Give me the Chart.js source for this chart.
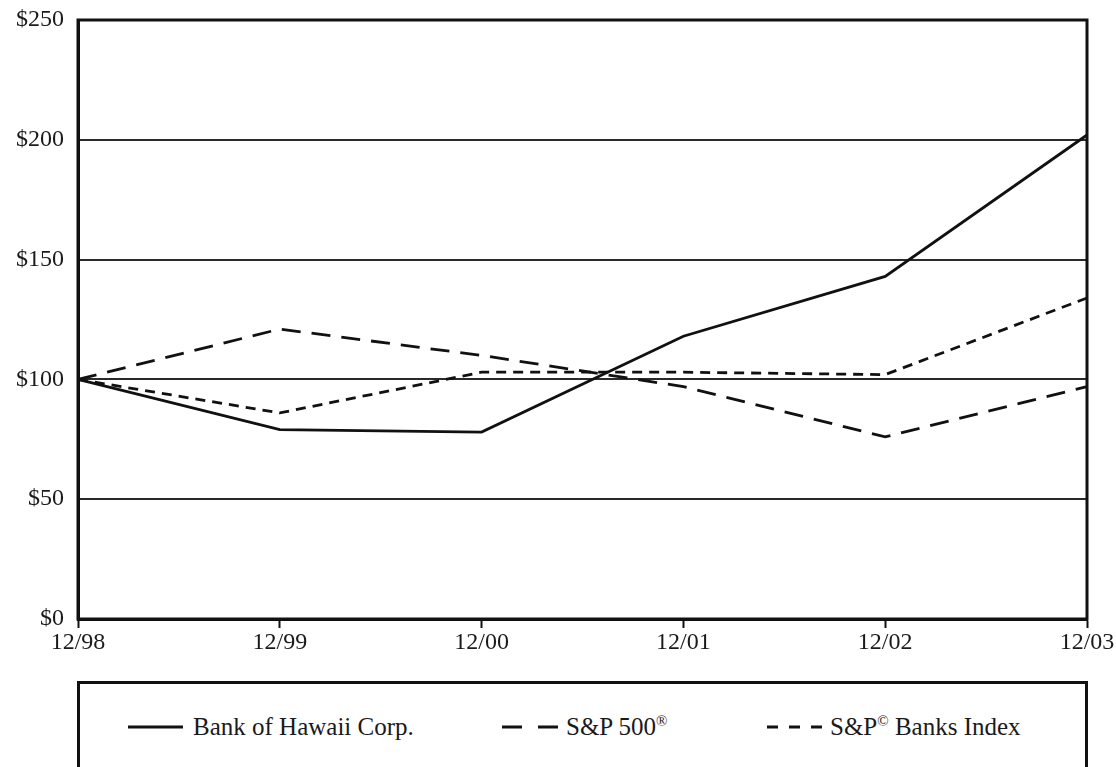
<!DOCTYPE html>
<html>
<head>
<meta charset="utf-8">
<script src="https://cdn.jsdelivr.net/npm/chart.js@4.4.1/dist/chart.umd.min.js"></script>
<style>
  body { margin: 0; background: #fff; width: 1116px; height: 767px; overflow: hidden; position: relative; font-family: "Liberation Serif", serif; color: #1a1a1a; }
  #wrap { position: absolute; left: 0; top: 0; width: 1116px; height: 660px; }
  #legendBox { position: absolute; left: 77px; top: 681px; width: 1005px; height: 120px; border: 3px solid #111; }
  .lg { position: absolute; top: 712px; font-size: 25px; line-height: 30px; white-space: nowrap; }
  .lg sup { font-size: 15px; vertical-align: 9px; line-height: 0; }
  svg.sample { position: absolute; top: 722px; height: 10px; overflow: visible; }
</style>
</head>
<body>
<div id="wrap"><canvas id="chart" width="1116" height="660"></canvas></div>

<div id="legendBox"></div>
<svg class="sample" style="left:128px;width:55px"><line x1="0" y1="5" x2="55" y2="5" stroke="#111" stroke-width="3"/></svg>
<div class="lg" style="left:193px">Bank of Hawaii Corp.</div>
<svg class="sample" style="left:502px;width:56px"><line x1="0" y1="5" x2="56" y2="5" stroke="#111" stroke-width="3" stroke-dasharray="20 16"/></svg>
<div class="lg" style="left:566px">S&amp;P 500<sup>®</sup></div>
<svg class="sample" style="left:767px;width:55px"><line x1="0" y1="5" x2="55" y2="5" stroke="#111" stroke-width="3" stroke-dasharray="11 11"/></svg>
<div class="lg" style="left:830px">S&amp;P<sup>©</sup> Banks Index</div>

<script>
// values, $100 invested 12/98
var years = ['12/98', '12/99', '12/00', '12/01', '12/02', '12/03'];
var bankOfHawaii = [100, 79, 78, 118, 143, 202];
var sp500 = [100, 121, 110, 97, 76, 97];
var spBanks = [100, 86, 103, 103, 102, 134];
var yTicks = [0, 50, 100, 150, 200, 250];

var font = { family: 'Liberation Serif', size: 24 };

// heavy frame round the plot area
var framePlugin = {
    id: 'frame',
    beforeDatasetsDraw: function (chart) {
        var a = chart.chartArea, ctx = chart.ctx;
        ctx.save();
        ctx.strokeStyle = '#111';
        ctx.lineWidth = 3;
        ctx.strokeRect(a.left, a.top, a.right - a.left, a.bottom - a.top);
        ctx.restore();
    }
};

var canvas = document.getElementById('chart');
new Chart(canvas, {
    type: 'line',
    data: {
        labels: years,
        datasets: [{
            label: 'Bank of Hawaii Corp.',
            data: bankOfHawaii,
            borderColor: '#111',
            borderWidth: 2.8
        }, {
            label: 'S&P 500®',
            data: sp500,
            borderColor: '#111',
            borderWidth: 2.8,
            borderDash: [19, 11]
        }, {
            label: 'S&P© Banks Index',
            data: spBanks,
            borderColor: '#111',
            borderWidth: 2.8,
            borderDash: [10, 7]
        }]
    },
    options: {
        responsive: false,
        animation: false,
        layout: { padding: { left: 0, right: 29, top: 20, bottom: 0 } },
        elements: {
            point: { radius: 0 },
            line: { tension: 0, borderCapStyle: 'butt' }
        },
        plugins: {
            legend: { display: false },
            tooltip: { enabled: false }
        },
        scales: {
            x: {
                offset: false,
                afterFit: function (scale) { scale.height = 41; },
                grid: {
                    drawOnChartArea: false,
                    tickLength: 9,
                    tickColor: '#111',
                    tickWidth: 2
                },
                border: { display: true, color: '#111', width: 3 },
                ticks: { color: '#1a1a1a', font: font, padding: 0, autoSkip: false, maxRotation: 0 }
            },
            y: {
                min: 0,
                max: 250,
                afterFit: function (scale) {
                    scale.width = 78;
                    scale.paddingTop = 10;
                    scale.paddingBottom = 10;
                },
                afterBuildTicks: function (scale) {
                    scale.ticks = yTicks.map(function (v) { return { value: v }; });
                },
                grid: {
                    drawTicks: false,
                    color: function (c) {
                        var v = c.tick ? c.tick.value : 0;
                        return (v === 0 || v === 250) ? 'rgba(0,0,0,0)' : '#2a2a2a';
                    },
                    lineWidth: 2
                },
                border: { display: true, color: '#111', width: 3 },
                ticks: {
                    color: '#1a1a1a',
                    font: font,
                    padding: 14,
                    callback: function (v) { return '$' + v; }
                }
            }
        }
    },
    plugins: [framePlugin]
});
</script>
</body>
</html>
